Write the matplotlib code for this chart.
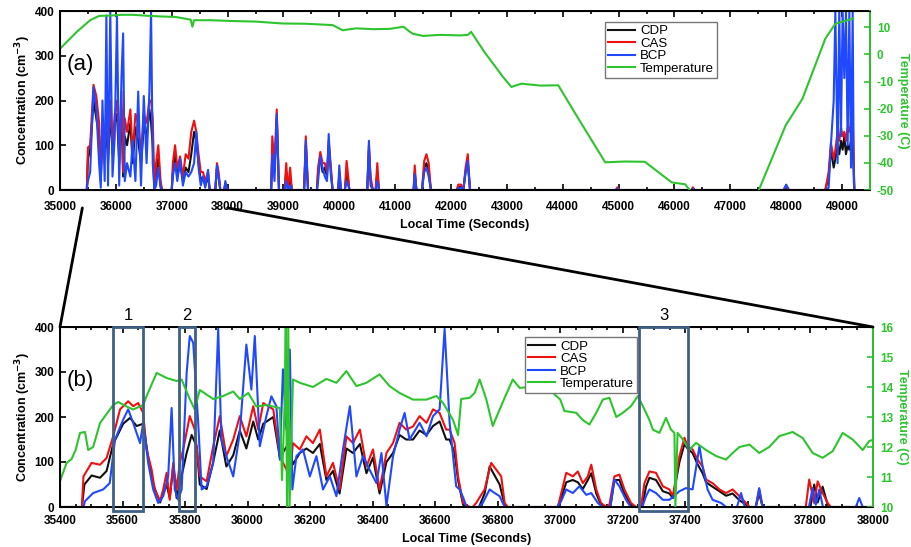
import matplotlib
matplotlib.use("Agg")
import matplotlib.pyplot as plt
from matplotlib.patches import Rectangle, ConnectionPatch
from matplotlib.lines import Line2D
from matplotlib.transforms import blended_transform_factory
from matplotlib.ticker import MultipleLocator

plt.rcParams['font.family'] = ['Liberation Sans', 'DejaVu Sans']
plt.rcParams['mathtext.default'] = 'bf'
plt.rcParams['axes.unicode_minus'] = False

C_CDP = '#111111'
C_CAS = '#ee1111'
C_BCP = '#1f48ff'
C_TMP = '#2ec42e'
C_BOX = '#3f5f85'

# ---------------- Panel (a) data ----------------
t_a = [35000, 35470, 35480, 35500, 35540, 35600, 35650, 35700, 35730, 35760, 35800, 35830, 35860,
       35900, 35940, 35980, 36020, 36060, 36100, 36130, 36160, 36200, 36260, 36300, 36350, 36400,
       36450, 36500, 36550, 36600, 36630, 36660, 36690, 36720, 36760, 36800, 36830, 37000, 37020,
       37060, 37100, 37150, 37200, 37250, 37300, 37350, 37400, 37440, 37480, 37520, 37560, 37600,
       37650, 37680, 37780, 37810, 37840, 37870, 37940, 37960, 37990, 38780, 38800, 38840, 38880,
       38920, 39020, 39050, 39080, 39120, 39150, 39370, 39400, 39440, 39600, 39620, 39660, 39700,
       39740, 39780, 39810, 39850, 39880, 39980, 40000, 40030, 40100, 40130, 40160, 40180, 40500,
       40530, 40560, 40600, 40650, 40680, 40710, 41330, 41350, 41380, 41480, 41520, 41560, 41600,
       41640, 42100, 42130, 42180, 42220, 42260, 42300, 42340, 44950, 44980, 45010, 46300, 46330,
       46360, 47950, 48000, 48050, 48700, 48760, 48800, 48850, 48880, 48920, 48950, 48980, 49010,
       49040, 49070, 49100, 49130, 49160, 49190, 49210, 49220]
cdp_a = [0, 0, 0, 70, 90, 200, 160, 120, 20, 120, 80, 150, 60,
         180, 80, 150, 170, 60, 180, 30, 120, 100, 150, 60, 140, 110,
         60, 140, 120, 180, 150, 100, 0, 30, 70, 10, 0, 0, 40,
         80, 30, 60, 20, 50, 40, 80, 130, 110, 60, 20, 30, 10,
         30, 0, 0, 50, 30, 0, 0, 15, 0, 0, 80, 40, 160,
         0, 0, 40, 0, 30, 0, 0, 100, 0, 0, 40, 75, 40,
         50, 30, 100, 40, 0, 0, 30, 0, 0, 40, 20, 0, 0,
         90, 20, 0, 0, 40, 0, 0, 40, 0, 0, 50, 60, 40,
         0, 0, 5, 8, 0, 40, 60, 0, 0, 4, 0, 0, 4,
         0, 0, 6, 0, 0, 30, 90, 50, 70, 100, 80, 110, 90,
         120, 80, 100, 90, 110, 100, 40, 0]
cas_a = [0, 0, 0, 95, 100, 235, 210, 150, 30, 150, 100, 180, 80,
         200, 100, 170, 200, 80, 220, 40, 160, 130, 180, 80, 170, 150,
         80, 170, 150, 200, 200, 160, 0, 60, 100, 20, 0, 0, 60,
         100, 50, 75, 30, 80, 70, 130, 155, 130, 80, 40, 40, 20,
         40, 0, 0, 60, 40, 0, 0, 15, 0, 0, 120, 60, 180,
         0, 0, 60, 0, 50, 0, 0, 120, 0, 0, 50, 85, 60,
         60, 40, 110, 50, 0, 0, 40, 0, 0, 65, 30, 0, 0,
         100, 30, 0, 0, 60, 0, 0, 55, 0, 0, 65, 80, 60,
         0, 0, 12, 12, 0, 50, 80, 0, 0, 6, 0, 0, 6,
         0, 0, 8, 0, 0, 40, 105, 70, 90, 130, 110, 140, 120,
         130, 110, 140, 130, 150, 165, 60, 0]
bcp_a = [0, 0, 0, 20, 40, 230, 180, 60, 5, 200, 20, 390, 10,
         400, 30, 120, 390, 10, 250, 350, 20, 60, 30, 110, 20, 220,
         10, 210, 60, 220, 400, 60, 0, 10, 50, 5, 0, 0, 30,
         60, 20, 70, 10, 40, 30, 40, 60, 130, 50, 10, 30, 5,
         45, 0, 0, 55, 25, 0, 0, 20, 0, 0, 80, 20, 170,
         0, 0, 20, 0, 10, 0, 0, 110, 0, 0, 20, 75, 50,
         30, 20, 125, 30, 0, 0, 55, 0, 0, 20, 10, 0, 0,
         110, 10, 0, 0, 20, 0, 0, 35, 0, 0, 40, 50, 30,
         0, 0, 3, 5, 0, 40, 65, 0, 0, 3, 0, 0, 3,
         0, 0, 12, 0, 0, 5, 100, 200, 400, 60, 400, 120, 400,
         250, 400, 100, 400, 50, 400, 20, 0]

t_temp_a = [35000, 35300, 35540, 35700, 35900, 36100, 36300, 36600, 36800, 37070, 37340, 37370, 37400,
            37700, 38090, 38500, 38980, 39400, 39880, 40060, 40300, 40600, 40900, 41150, 41250, 41320,
            41500, 41800, 42170, 42300, 42360, 42600, 42930, 43080, 43260, 43600, 43920, 44280, 44760,
            45100, 45470, 45950, 46190, 46280, 46300, 47500, 47510, 47990, 48290, 48700, 48880, 49200]
temp_a = [2.1, 8.3, 12.6, 14.2, 14.3, 14.6, 14.6, 14.2, 14.0, 13.8, 12.8, 10.2, 12.6,
          12.6, 12.3, 12.1, 11.4, 11.3, 10.8, 8.9, 9.6, 9.3, 9.4, 10.2, 8.5, 7.6,
          6.8, 7.2, 7.0, 7.2, 8.3, 0.8, -8.3, -12.0, -10.8, -11.5, -11.4, -23.7, -39.8,
          -39.5, -39.6, -47.2, -47.9, -50.2, -56, -56, -50.0, -26.2, -16.4, 5.8, 11.3, 13.2]

# ---------------- Panel (b) data ----------------
t_cas_b = [35400, 35470, 35475, 35501, 35528, 35549, 35570, 35592, 35618, 35634, 35650, 35666, 35677,
           35693, 35703, 35720, 35730, 35741, 35751, 35762, 35773, 35783, 35794, 35815, 35831, 35847,
           35869, 35890, 35911, 35932, 35954, 35975, 35996, 36018, 36034, 36050, 36082, 36103, 36135,
           36145, 36167, 36188, 36209, 36231, 36252, 36273, 36294, 36316, 36337, 36359, 36380, 36401,
           36422, 36444, 36465, 36486, 36507, 36529, 36550, 36572, 36593, 36614, 36635, 36646, 36662,
           36673, 36689, 36710, 36720, 36731, 36747, 36758, 36768, 36779, 36795, 36811, 36822, 36832,
           36992, 37003, 37019, 37040, 37056, 37072, 37088, 37099, 37115, 37130, 37147, 37157, 37173,
           37189, 37205, 37226, 37242, 37258, 37269, 37285, 37306, 37328, 37349, 37360, 37381, 37397,
           37407, 37423, 37439, 37455, 37466, 37487, 37509, 37530, 37551, 37573, 37594, 37605, 37625,
           37636, 37647, 37785, 37796, 37812, 37823, 37839, 37855, 37865, 38000]
cas_b = [0, 0, 68, 98, 94, 109, 157, 217, 235, 224, 231, 209, 128,
         83, 39, 13, 39, 76, 16, 98, 39, 98, 128, 202, 172, 68,
         57, 135, 202, 113, 150, 202, 157, 224, 172, 231, 217, 113, 68,
         142, 128, 157, 142, 172, 68, 98, 39, 157, 142, 172, 90, 128,
         39, 120, 142, 187, 172, 179, 202, 187, 217, 209, 172, 172, 142,
         68, 9, 0, 0, 9, 27, 39, 68, 98, 83, 68, 9, 0,
         0, 31, 76, 68, 79, 53, 68, 94, 39, 9, 0, 5, 68,
         72, 39, 9, 0, 0, 53, 79, 76, 46, 39, 24, 113, 154,
         135, 128, 105, 90, 61, 53, 39, 31, 39, 24, 9, 0, 0,
         39, 0, 0, 61, 9, 57, 31, 9, 0, 0]

t_cdp_b = [35400, 35470, 35478, 35501, 35528, 35549, 35570, 35602, 35624, 35645, 35666, 35682, 35698,
           35720, 35741, 35751, 35762, 35773, 35794, 35805, 35821, 35837, 35847, 35869, 35890, 35911,
           35932, 35954, 35975, 35996, 36018, 36034, 36050, 36082, 36103, 36130, 36145, 36167, 36188,
           36209, 36231, 36252, 36273, 36294, 36316, 36337, 36359, 36380, 36401, 36422, 36444, 36465,
           36486, 36507, 36529, 36550, 36572, 36593, 36614, 36635, 36646, 36662, 36673, 36689, 36700,
           36740, 36758, 36774, 36790, 36806, 36822, 36832, 36992, 37003, 37019, 37040, 37056, 37072,
           37088, 37099, 37115, 37130, 37147, 37160, 37173, 37189, 37205, 37226, 37242, 37262, 37274,
           37285, 37306, 37328, 37349, 37360, 37381, 37397, 37407, 37423, 37439, 37455, 37466, 37487,
           37509, 37530, 37551, 37573, 37594, 37605, 37625, 37636, 37647, 37800, 37812, 37823, 37839,
           37855, 37865, 38000]
cdp_b = [0, 0, 50, 70, 65, 80, 140, 185, 198, 180, 185, 110, 50,
         10, 50, 20, 90, 20, 85, 120, 160, 135, 50, 40, 100, 170,
         90, 115, 170, 130, 190, 150, 185, 200, 110, 140, 95, 120, 130,
         120, 140, 60, 80, 30, 130, 120, 140, 75, 110, 30, 100, 120,
         160, 150, 150, 170, 160, 180, 190, 150, 150, 120, 60, 5, 0,
         0, 30, 90, 70, 50, 5, 0, 0, 20, 55, 60, 55, 40,
         60, 75, 30, 5, 0, 0, 60, 60, 30, 5, 0, 0, 45,
         65, 60, 35, 30, 20, 100, 140, 130, 120, 95, 75, 55, 45,
         35, 25, 30, 15, 5, 0, 0, 30, 0, 0, 50, 10, 45,
         5, 0, 0]

t_bcp_b = [35400, 35475, 35480, 35506, 35538, 35559, 35576, 35602, 35618, 35634, 35656, 35666, 35682,
           35698, 35714, 35730, 35746, 35757, 35767, 35778, 35789, 35805, 35815, 35826, 35842, 35853,
           35869, 35890, 35906, 35916, 35932, 35954, 35975, 35996, 36012, 36023, 36039, 36060, 36076,
           36092, 36103, 36113, 36124, 36135, 36143, 36156, 36177, 36199, 36220, 36241, 36263, 36284,
           36305, 36327, 36348, 36369, 36390, 36412, 36428, 36444, 36465, 36486, 36502, 36518, 36550,
           36572, 36593, 36614, 36630, 36646, 36667, 36678, 36690, 36700, 36740, 36752, 36774, 36790,
           36806, 36822, 36990, 37000, 37019, 37040, 37061, 37083, 37099, 37120, 37135, 37160, 37173,
           37189, 37210, 37225, 37262, 37274, 37285, 37306, 37328, 37349, 37381, 37402, 37423, 37445,
           37455, 37471, 37487, 37514, 37530, 37565, 37578, 37590, 37625, 37636, 37647, 37795, 37807,
           37817, 37828, 37840, 37945, 37956, 37967, 38000]
bcp_b = [0, 0, 13, 31, 39, 53, 150, 194, 217, 187, 142, 187, 98,
         39, 9, 24, 68, 220, 39, 16, 39, 298, 380, 365, 187, 39,
         46, 98, 396, 150, 113, 68, 165, 361, 261, 380, 135, 202, 246,
         224, 105, 306, 172, 350, 39, 113, 128, 68, 113, 39, 68, 24,
         128, 224, 68, 113, 83, 53, 120, 2, 113, 172, 209, 150, 187,
         157, 202, 217, 396, 187, 46, 39, 20, 0, 0, 9, 39, 31,
         24, 0, 0, 9, 39, 31, 46, 27, 31, 9, 0, 0, 61,
         46, 16, 0, 0, 24, 39, 31, 16, 16, 35, 42, 39, 135,
         90, 39, 16, 9, 0, 0, 31, 0, 0, 42, 0, 0, 42,
         5, 39, 0, 0, 20, 0, 0]

t_temp_b = [35400, 35421, 35437, 35450, 35464, 35480, 35490, 35506, 35528, 35570, 35586, 35613, 35634,
            35666, 35677, 35709, 35741, 35773, 35789, 35815, 35831, 35847, 35890, 35922, 35954, 35975,
            36002, 36028, 36060, 36103, 36110, 36118, 36122, 36126, 36130, 36134, 36145, 36167, 36209,
            36252, 36284, 36316, 36348, 36380, 36422, 36454, 36486, 36529, 36572, 36604, 36625, 36657,
            36673, 36683, 36710, 36726, 36742, 36763, 36784, 36800, 36822, 36848, 36870, 36902, 36923,
            36966, 37000, 37013, 37051, 37072, 37093, 37115, 37136, 37157, 37179, 37200, 37226, 37248,
            37264, 37285, 37296, 37317, 37338, 37354, 37365, 37368, 37375, 37392, 37413, 37434, 37466,
            37498, 37530, 37551, 37573, 37605, 37636, 37668, 37700, 37743, 37775, 37807, 37839, 37871,
            37903, 37935, 37967, 37988, 38004]
temp_b = [10.86, 11.47, 11.6, 11.9, 12.47, 12.5, 11.9, 12.0, 12.8, 13.4, 13.5, 13.35, 13.25,
          13.4, 13.7, 14.47, 14.3, 14.2, 14.25, 13.6, 13.25, 13.9, 13.6, 13.7, 13.85, 13.6,
          13.8, 13.35, 13.4, 13.3, 10.9, 13.3, 16.0, 10.0, 16.0, 10.0, 14.25, 14.14, 14.0,
          14.27, 14.14, 14.53, 14.03, 14.14, 14.42, 14.03, 13.8, 13.58, 13.58, 13.7, 13.47, 12.9,
          12.4, 13.6, 13.64, 13.8, 14.25, 13.6, 12.7, 13.1, 13.64, 14.25, 13.97, 14.0, 14.14,
          13.9, 13.58, 13.2, 13.14, 12.9, 12.75, 13.14, 13.58, 13.64, 13.0, 13.14, 13.36, 13.7,
          13.36, 12.9, 12.58, 12.47, 12.97, 12.58, 12.47, 10.0, 12.47, 12.25, 11.9, 12.14, 11.9,
          11.7, 11.58, 11.8, 12.0, 12.08, 11.8, 12.0, 12.36, 12.5, 12.3, 11.8, 11.64, 11.86,
          12.47, 12.25, 11.9, 12.2, 12.25]

box_starts = [35570, 35780, 37253]
box_ends = [35665, 35831, 37409]
box_labels = ['1', '2', '3']

series_names = ['CDP', 'CAS', 'BCP', 'Temperature']

# ---------------- Figure ----------------
fig = plt.figure(figsize=(9.12, 5.47), dpi=100)
axa = fig.add_axes([60/912, 1-190/547, 810/912, 179/547])
axb = fig.add_axes([60/912, 1-507/547, 813/912, 180/547])

TICK_FS = 8.5
LW = 1.5


def style_axes(ax, axt, xlim, xmajor, xminor, tlim, tticks, xpad):
    ax.set_xlim(*xlim)
    ax.set_ylim(0, 400)
    ax.set_yticks([0, 100, 200, 300, 400])
    ax.xaxis.set_major_locator(MultipleLocator(xmajor))
    ax.xaxis.set_minor_locator(MultipleLocator(xminor))
    ax.tick_params(axis='both', which='both', direction='in', top=True,
                   labelsize=TICK_FS, width=1.2)
    ax.tick_params(axis='x', which='major', pad=xpad)
    ax.tick_params(axis='y', which='major', pad=4)
    ax.tick_params(axis='both', which='major', length=4)
    ax.tick_params(axis='x', which='minor', length=2.5)
    for lab in ax.get_xticklabels() + ax.get_yticklabels():
        lab.set_fontweight('bold')
    for sp in ax.spines.values():
        sp.set_linewidth(1.4)
    ax.set_xlabel('Local Time (Seconds)', fontsize=9, fontweight='bold', labelpad=4)
    ax.set_ylabel('Concentration (cm$^{-3}$)', fontsize=9, fontweight='bold', labelpad=1)
    axt.set_ylim(*tlim)
    axt.set_yticks(tticks)
    axt.tick_params(axis='y', direction='in', colors=C_TMP, labelsize=TICK_FS,
                    width=1.2, length=4, pad=5)
    for lab in axt.get_yticklabels():
        lab.set_fontweight('bold')
    axt.spines['right'].set_color(C_TMP)
    axt.spines['right'].set_linewidth(1.4)
    axt.set_ylabel('Temperature (C)', rotation=270, color=C_TMP, fontsize=9,
                   fontweight='bold', labelpad=11)


# Panel (a)
axa.plot(t_a, cdp_a, color=C_CDP, lw=LW)
axa.plot(t_a, cas_a, color=C_CAS, lw=LW)
axa.plot(t_a, bcp_a, color=C_BCP, lw=LW)
axa_t = axa.twinx()
axa_t.plot(t_temp_a, temp_a, color=C_TMP, lw=LW)
style_axes(axa, axa_t, (35000, 49500), 1000, 500, (-50, 16),
           [-50, -40, -30, -20, -10, 0, 10], 8)
axa.text(0.008, 0.67, '(a)', transform=axa.transAxes, fontsize=16)

# Panel (b)
axb.plot(t_cdp_b, cdp_b, color=C_CDP, lw=LW)
axb.plot(t_cas_b, cas_b, color=C_CAS, lw=LW)
axb.plot(t_bcp_b, bcp_b, color=C_BCP, lw=LW)
axb_t = axb.twinx()
axb_t.plot(t_temp_b, temp_b, color=C_TMP, lw=LW)
style_axes(axb, axb_t, (35400, 38000), 200, 50, (10, 16),
           [10, 11, 12, 13, 14, 15, 16], 6)
axb.text(0.008, 0.67, '(b)', transform=axb.transAxes, fontsize=16)

# Legends
handles = [Line2D([], [], color=c, lw=1.5) for c in (C_CDP, C_CAS, C_BCP, C_TMP)]
for axt, anchor in ((axa_t, (0.673, 0.94)), (axb_t, (0.572, 0.944))):
    leg = axt.legend(handles, series_names, loc='upper left', bbox_to_anchor=anchor,
                     fontsize=9.5, frameon=True, fancybox=False, edgecolor='#777777',
                     framealpha=1, handlelength=2.0, labelspacing=0.02, borderpad=0.25,
                     handletextpad=0.4, borderaxespad=0)
    leg.get_frame().set_linewidth(1.0)

# Boxes on panel (b)
trb = blended_transform_factory(axb.transData, axb.transAxes)
for s, e, lab in zip(box_starts, box_ends, box_labels):
    axb_t.add_patch(Rectangle((s, -0.02), e - s, 1.02, transform=trb, fill=False,
                              edgecolor=C_BOX, lw=2, clip_on=False, zorder=5))
    axb_t.text((s + e) / 2, 1.025, lab, transform=trb, ha='center', va='bottom', fontsize=12)

# Zoom connector lines
tra = blended_transform_factory(axa.transData, axa.transAxes)
for xv in (35400, 38000):
    con = ConnectionPatch(xyA=(xv, -0.10), coordsA=tra, xyB=(xv, 400), coordsB=axb.transData,
                          color='black', lw=2)
    fig.add_artist(con)

fig.savefig('out.png', dpi=100)
